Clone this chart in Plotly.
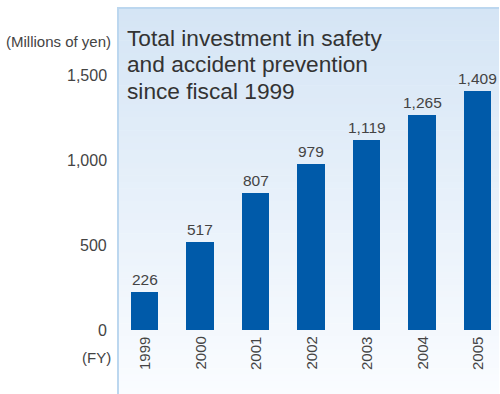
import plotly.graph_objects as go

# Fiscal years and total investment (millions of yen)
years = ["1999", "2000", "2001", "2002", "2003", "2004", "2005"]
investment = [226, 517, 807, 979, 1119, 1265, 1409]
value_labels = ["226", "517", "807", "979", "1,119", "1,265", "1,409"]
y_ticks = [0, 500, 1000, 1500]
y_tick_labels = ["0", "500", "1,000", "1,500"]
title_lines = ["Total investment in safety", "and accident prevention", "since fiscal 1999"]

W, H = 500, 394
FONT = "Liberation Sans, Arial, Helvetica, sans-serif"
BAR_COLOR = "#005aa9"
TEXT = "#444444"


def py(px):
    """Pixel row -> paper y."""
    return 1 - px / H


def px_x(px):
    return px / W


fig = go.Figure()
fig.add_trace(go.Bar(
    x=years, y=investment, width=0.49,
    marker=dict(color=BAR_COLOR, line=dict(width=0)),
    hoverinfo="skip",
))

shapes = []
# vertical gradient panel behind the chart
top_c = (213, 229, 245)
bot_c = (250, 252, 255)
panel_top, panel_bot = 8, H
n = 60
for i in range(n):
    t = i / (n - 1)
    c = tuple(round(a + (b - a) * t) for a, b in zip(top_c, bot_c))
    y0 = panel_top + (panel_bot - panel_top) * i / n
    y1 = panel_top + (panel_bot - panel_top) * (i + 1) / n + 0.6
    shapes.append(dict(
        type="rect", xref="paper", yref="paper", layer="below",
        x0=px_x(118), x1=px_x(499), y0=py(min(y1, H)), y1=py(y0),
        fillcolor="rgb(%d,%d,%d)" % c, line=dict(width=0),
    ))
# panel borders (top and left)
shapes.append(dict(type="line", xref="paper", yref="paper", layer="below",
                   x0=px_x(117), x1=px_x(499), y0=py(8), y1=py(8),
                   line=dict(color="#bcd7ef", width=2)))
shapes.append(dict(type="line", xref="paper", yref="paper", layer="below",
                   x0=px_x(118), x1=px_x(118), y0=py(7), y1=py(H),
                   line=dict(color="#bcd7ef", width=2)))

annotations = []
# y tick labels
for v, lab in zip(y_ticks, y_tick_labels):
    annotations.append(dict(
        text=lab, xref="paper", x=px_x(109), xanchor="right",
        yref="y", y=v, yanchor="middle", showarrow=False,
        font=dict(family=FONT, size=16, color=TEXT),
    ))
# unit labels
annotations.append(dict(
    text="(Millions of yen)", xref="paper", x=px_x(113), xanchor="right",
    yref="paper", y=py(42), yanchor="middle", showarrow=False,
    font=dict(family=FONT, size=15, color=TEXT),
))
annotations.append(dict(
    text="(FY)", xref="paper", x=px_x(113), xanchor="right",
    yref="paper", y=py(357), yanchor="middle", showarrow=False,
    font=dict(family=FONT, size=15, color=TEXT),
))
# value labels above bars (category index positions)
for i, (v, lab) in enumerate(zip(investment, value_labels)):
    annotations.append(dict(
        text=lab, x=i, xref="x", y=v, yref="y",
        xanchor="center", yanchor="bottom", yshift=2, showarrow=False,
        font=dict(family=FONT, size=15.5, color=TEXT),
    ))
# rotated year labels
for i, yr in enumerate(years):
    annotations.append(dict(
        text=yr, x=i, xref="x", y=-29.5, yref="y",
        xanchor="center", yanchor="top", textangle=-90, showarrow=False,
        font=dict(family=FONT, size=15, color=TEXT),
    ))
# title block
for i, line in enumerate(title_lines):
    annotations.append(dict(
        text=line, xref="paper", x=px_x(125), xanchor="left",
        yref="paper", y=py(38 + 26.5 * i), yanchor="middle", showarrow=False,
        font=dict(family=FONT, size=22.7, color="#333333"),
    ))

fig.update_layout(
    width=W, height=H,
    margin=dict(l=0, r=0, t=0, b=0),
    paper_bgcolor="white", plot_bgcolor="rgba(0,0,0,0)",
    showlegend=False,
    xaxis=dict(type="category", range=[-2.6036, 6.4054], visible=False,
               domain=[0, 1]),
    yaxis=dict(range=[-377.4, 1945.8], visible=False, domain=[0, 1]),
    shapes=shapes, annotations=annotations,
    bargap=0,
)

fig.write_html("out.html")
